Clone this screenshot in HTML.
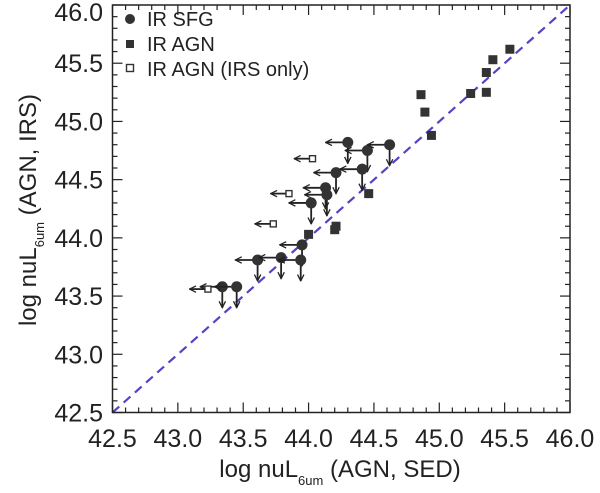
<!DOCTYPE html>
<html><head><meta charset="utf-8"><style>
html,body{margin:0;padding:0;background:#fff;}
svg{display:block;font-family:"Liberation Sans",sans-serif;}
</style></head><body>
<svg id="chart" width="600" height="493" viewBox="0 0 600 493" xmlns="http://www.w3.org/2000/svg">
<defs>
<marker id="ah" viewBox="0 0 10 10" refX="9" refY="5" markerWidth="8" markerHeight="8" orient="auto-start-reverse" markerUnits="userSpaceOnUse">
<path d="M1,1 L9,5 L1,9" fill="none" stroke="#222" stroke-width="1.6"/>
</marker>
</defs>
<g id="axes"></g>
<g id="marks"></g>
<g font-size="20" fill="#222">
<circle cx="130" cy="19" r="5" fill="#333"/>
<text x="147" y="26">IR SFG</text>
<rect x="126" y="40" width="8" height="8" fill="#333"/>
<text x="147" y="51">IR AGN</text>
<rect x="126.5" y="64.5" width="7" height="7" fill="#fff" stroke="#333" stroke-width="1.4"/>
<text x="147" y="76">IR AGN (IRS only)</text>
</g>
<text x="340" y="477" font-size="24" text-anchor="middle" fill="#222">log nuL<tspan font-size="13" dy="8">6um</tspan><tspan dy="-8"> (AGN, SED)</tspan></text>
<text transform="translate(36,210) rotate(-90)" font-size="24" text-anchor="middle" fill="#222">log nuL<tspan font-size="13" dy="8">6um</tspan><tspan dy="-8"> (AGN, IRS)</tspan></text>
<script>
const xTicks=[42.5,43.0,43.5,44.0,44.5,45.0,45.5,46.0];
const yTicks=[42.5,43.0,43.5,44.0,44.5,45.0,45.5,46.0];
const sfgX=[44.30,44.45,44.62,44.21,44.41,44.13,44.14,44.02,43.95,43.61,43.79,43.94,43.34,43.45];
const sfgY=[44.82,44.75,44.80,44.56,44.59,44.43,44.37,44.30,43.94,43.81,43.83,43.81,43.58,43.58];
const irsX=[44.03,43.85,43.73,43.23];
const irsY=[44.68,44.38,44.12,43.56];
const agnX=[45.54,45.41,45.36,45.36,45.24,44.86,44.89,44.94,44.46,44.00,44.21,44.20];
const agnY=[45.62,45.53,45.42,45.25,45.24,45.23,45.08,44.88,44.38,44.03,44.10,44.07];
const L=112.5,R=570,T=5,B=412.5,X0=42.5,X1=46.0;
const sx=v=>L+(v-X0)/(X1-X0)*(R-L);
const sy=v=>B-(v-X0)/(X1-X0)*(B-T);
const NS="http://www.w3.org/2000/svg";
function mk(tag,attrs,parent){const e=document.createElementNS(NS,tag);for(const k in attrs)e.setAttribute(k,attrs[k]);parent.appendChild(e);return e;}
const ax=document.getElementById('axes');
const mg=document.getElementById('marks');
let d=mk('line',{x1:sx(42.5),y1:sy(42.5),x2:sx(46),y2:sy(46),stroke:'#5b3fc4','stroke-width':2.2,'stroke-dasharray':'9,6'},ax);


let fr=mk('rect',{x:L,y:T,width:R-L,height:B-T,fill:'none',stroke:'#222','stroke-width':1.5},ax);


for(let i=0;i<=35;i++){
  const v=42.5+i*0.1, major=(i%5===0), len=major?10:5;
  const x=sx(v), y=sy(v);
  mk('line',{x1:x,y1:B,x2:x,y2:B-len,stroke:'#222','stroke-width':1.2},ax);
  mk('line',{x1:x,y1:T,x2:x,y2:T+len,stroke:'#222','stroke-width':1.2},ax);
  mk('line',{x1:L,y1:y,x2:L+len,y2:y,stroke:'#222','stroke-width':1.2},ax);
  mk('line',{x1:R,y1:y,x2:R-len,y2:y,stroke:'#222','stroke-width':1.2},ax);
}
xTicks.forEach(v=>{const t=mk('text',{x:sx(v),y:447,'font-size':25,'text-anchor':'middle',fill:'#222'},ax);t.textContent=v.toFixed(1);

});
yTicks.forEach(v=>{const t=mk('text',{x:103,y:Math.max(sy(v)+9,21),'font-size':25,'text-anchor':'end',fill:'#222'},ax);t.textContent=v.toFixed(1);

});
const aw=0.17;
sfgX.forEach((xv,i)=>{const yv=sfgY[i];
  const l=mk('line',{x1:sx(xv),y1:sy(yv),x2:sx(xv-aw),y2:sy(yv),stroke:'#222','stroke-width':1.8,'marker-end':'url(#ah)'},mg);
  
  
  const dn=mk('line',{x1:sx(xv),y1:sy(yv),x2:sx(xv),y2:sy(yv-0.18),stroke:'#222','stroke-width':1.8,'marker-end':'url(#ah)'},mg);
  
  
  const c=mk('circle',{cx:sx(xv),cy:sy(yv),r:5.5,fill:'#333'},mg);
  
  
});
irsX.forEach((xv,i)=>{const yv=irsY[i];
  const l=mk('line',{x1:sx(xv)-3,y1:sy(yv),x2:sx(xv-0.14),y2:sy(yv),stroke:'#222','stroke-width':1.8,'marker-end':'url(#ah)'},mg);
  
  
  const r=mk('rect',{x:sx(xv)-3,y:sy(yv)-3,width:6,height:6,fill:'#fff',stroke:'#333','stroke-width':1.4},mg);
  
  
});
agnX.forEach((xv,i)=>{const yv=agnY[i];
  const r=mk('rect',{x:sx(xv)-4.5,y:sy(yv)-4.5,width:9,height:9,fill:'#333'},mg);
  
  
});
</script>
</svg>
</body></html>
